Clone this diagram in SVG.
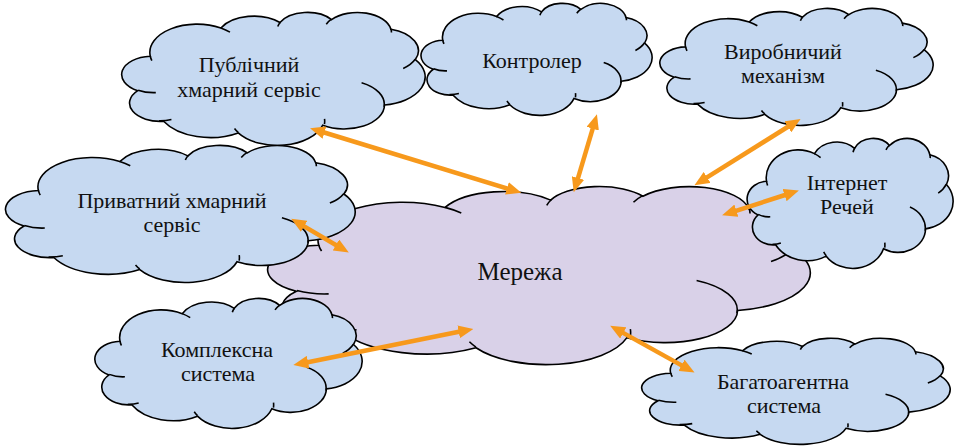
<svg xmlns="http://www.w3.org/2000/svg" width="955" height="448" viewBox="0 0 955 448">
<style>
.blue{fill:#C6D9F1;stroke:#000;stroke-width:1.6}
.purple{fill:#D9D1E8;stroke:#000;stroke-width:1.6}
.ln{fill:none;stroke:#000;stroke-width:1.6}
text{font-family:'Liberation Serif','DejaVu Serif',serif;font-size:22px;fill:#111;text-anchor:middle}
.big{font-size:25px}
.arr{fill:none;stroke:#F7991C;stroke-width:4.5;marker-start:url(#ah);marker-end:url(#ah)}
</style>
<defs>
<path id="cloud" vector-effect="non-scaling-stroke" d="M9.03,33.26 A15.63,21.27 0 0 1 32.42,12.04 A12.35,16.82 0 0 1 51.98,7.94 A10.10,13.76 0 0 1 69.06,5.74 A11.24,15.27 0 0 1 88.70,12.91 A12.35,16.84 0 0 1 96.81,35.78 A15.68,21.34 0 0 1 86.59,69.91 A13.39,18.21 0 0 1 66.10,85.21 A15.63,21.33 0 0 1 38.15,90.89 A17.87,24.41 0 0 1 13.44,82.11 A10.09,13.70 0 0 1 4.89,59.14 A10.06,13.76 0 0 1 9.03,33.26 Z"/>
<path id="cloudIn" vector-effect="non-scaling-stroke" fill="none" d="M10.86,60.60 A10.06,13.76 0 0 1 5.00,58.75 M16.04,80.79 A10.09,13.70 0 0 1 11.94,81.75 M38.14,90.49 A15.63,21.33 0 0 1 36.93,87.53 M66.73,80.44 A15.63,21.33 0 0 1 66.71,84.33 M79.00,53.13 A13.39,18.21 0 0 1 86.46,71.34 M96.76,35.54 A12.35,16.84 0 0 1 92.78,42.41 M88.71,12.56 A11.24,15.27 0 0 1 88.89,15.49 M67.31,9.15 A11.24,15.27 0 0 1 69.03,5.42 M51.25,10.93 A10.10,13.76 0 0 1 52.08,7.71 M32.41,12.02 A15.63,21.27 0 0 1 35.42,15.14 M9.55,36.55 A15.63,21.27 0 0 1 9.03,33.27"/>
<marker id="ah" markerUnits="userSpaceOnUse" markerWidth="15" markerHeight="13" viewBox="0 0 14 12" refX="5" refY="6" orient="auto-start-reverse">
<path d="M0,0 L14,6 L0,12 Z" fill="#F7991C"/>
</marker>
</defs>

<g id="merezha">
<g transform="translate(270,186) scale(5.4,1.78)"><use href="#cloud" class="purple"/><use href="#cloudIn" class="ln"/></g>
<text class="big" x="520" y="280">Мережа</text>
</g>

<g id="publichnyi">
<g transform="translate(123,12) scale(3.02,1.33)"><use href="#cloud" class="blue"/><use href="#cloudIn" class="ln"/></g>
<text x="249" y="72">Публічний</text>
<text x="249" y="97">хмарний сервіс</text>
</g>

<g id="kontroler">
<g transform="translate(422,3) scale(2.3,1.12)"><use href="#cloud" class="blue"/><use href="#cloudIn" class="ln"/></g>
<text x="532" y="68">Контролер</text>
</g>

<g id="vyrobnychyi">
<g transform="translate(661,8) scale(2.72,1.17)"><use href="#cloud" class="blue"/><use href="#cloudIn" class="ln"/></g>
<text x="783" y="59">Виробничий</text>
<text x="783" y="83">механізм</text>
</g>

<g id="pryvatnyi">
<g transform="translate(7,145) scale(3.48,1.37)"><use href="#cloud" class="blue"/><use href="#cloudIn" class="ln"/></g>
<text x="172" y="208">Приватний хмарний</text>
<text x="172" y="232">сервіс</text>
</g>

<g id="internet">
<g transform="translate(748,138) scale(2.05,1.3)"><use href="#cloud" class="blue"/><use href="#cloudIn" class="ln"/></g>
<text x="847" y="190">Інтернет</text>
<text x="847" y="214">Речей</text>
</g>

<g id="kompleksna">
<g transform="translate(96,298) scale(2.66,1.3)"><use href="#cloud" class="blue"/><use href="#cloudIn" class="ln"/></g>
<text x="217" y="357">Комплексна</text>
<text x="218" y="381">система</text>
</g>

<g id="bagatoagentna">
<g transform="translate(643,338) scale(3.07,1.06)"><use href="#cloud" class="blue"/><use href="#cloudIn" class="ln"/></g>
<text x="783" y="389">Багатоагентна</text>
<text x="784" y="413">система</text>
</g>

<g id="connectors">
<path class="arr" d="M319.3,131.0 L512.1,190.0"/>
<path class="arr" d="M594.2,123.6 L576.5,183.1"/>
<path class="arr" d="M792.4,124.0 L702.6,180.2"/>
<path class="arr" d="M789.7,193.5 L731.3,212.3"/>
<path class="arr" d="M299.5,223.6 L340.5,247.7"/>
<path class="arr" d="M302.8,363.2 L463.9,330.8"/>
<path class="arr" d="M618.6,330.4 L686.1,367.9"/>
</g>
</svg>
